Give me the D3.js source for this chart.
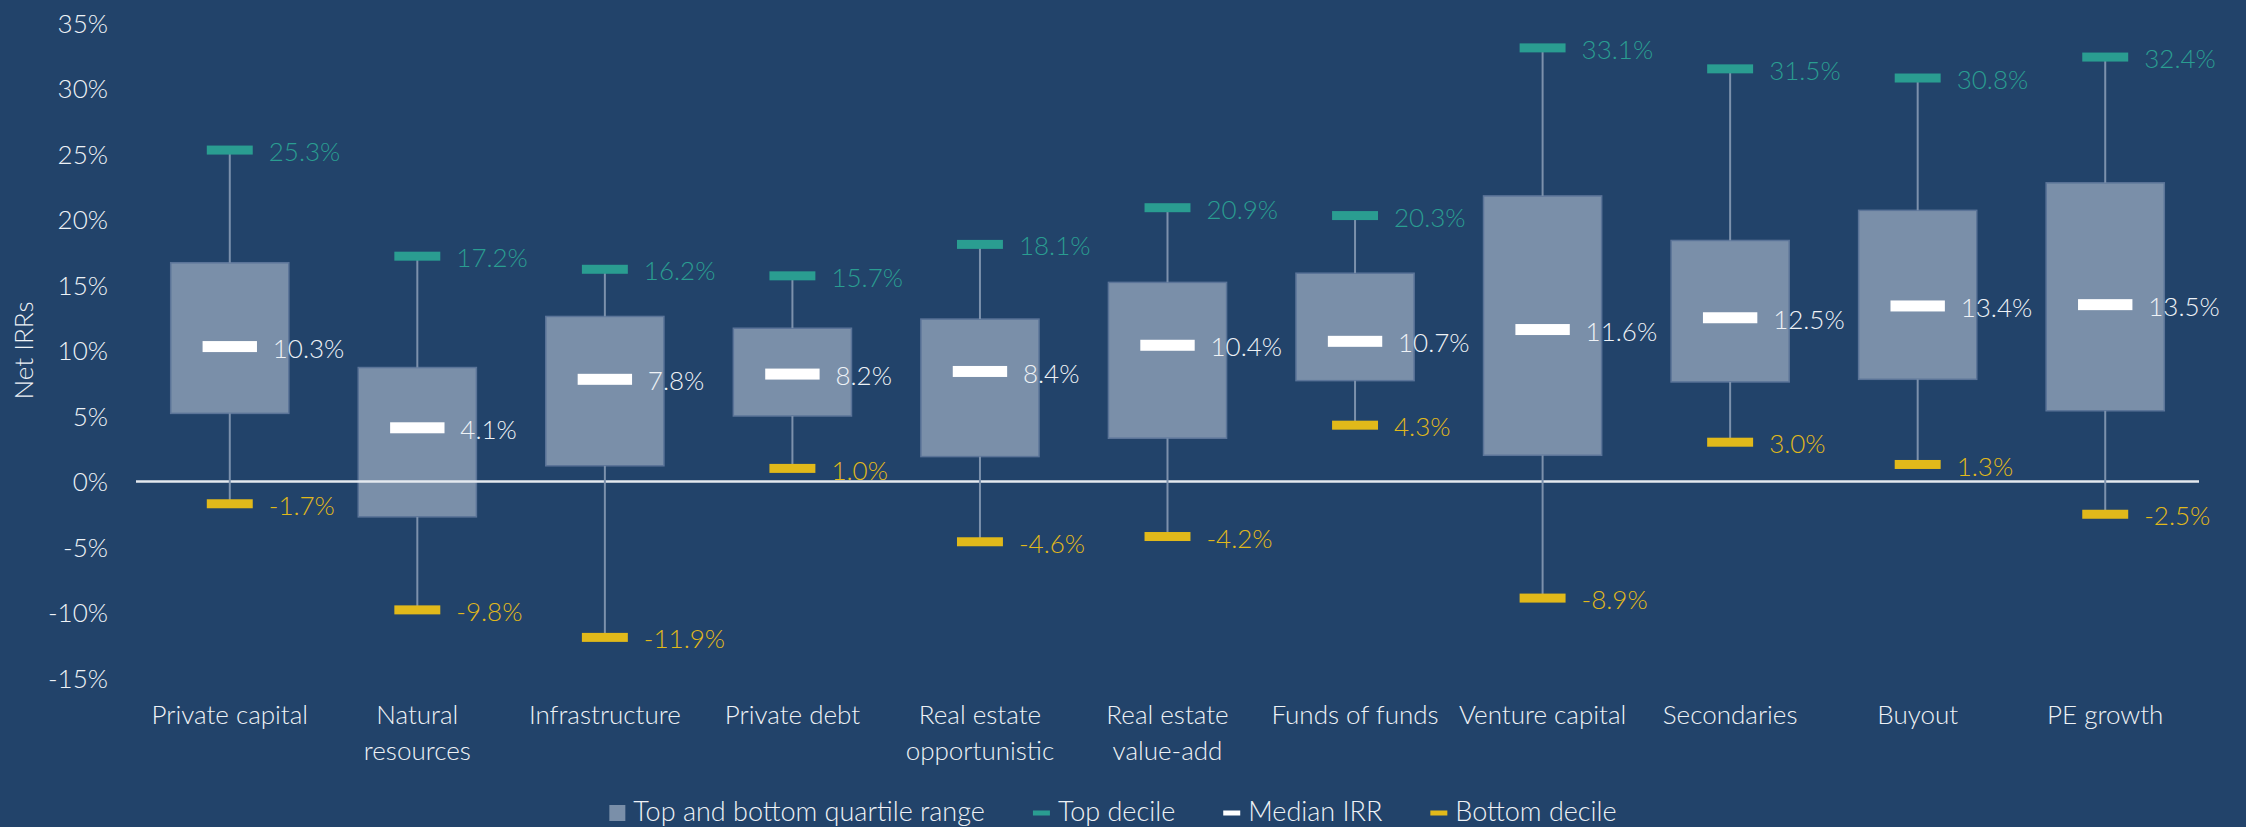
<!DOCTYPE html>
<html>
<head>
<meta charset="utf-8">
<script src="https://cdn.jsdelivr.net/npm/d3@7"></script>
<style>
  html, body { margin: 0; padding: 0; background: #22436A; }
  svg { display: block; }
  text { font-family: Lato, "Open Sans", sans-serif; font-weight: 300; }
</style>
</head>
<body>
<script>
// ---- Data ----
const categories = ["Private capital", "Natural resources", "Infrastructure", "Private debt",
  "Real estate opportunistic", "Real estate value-add", "Funds of funds", "Venture capital",
  "Secondaries", "Buyout", "PE growth"];
const categoryLines = [["Private capital"], ["Natural", "resources"], ["Infrastructure"], ["Private debt"],
  ["Real estate", "opportunistic"], ["Real estate", "value-add"], ["Funds of funds"], ["Venture capital"],
  ["Secondaries"], ["Buyout"], ["PE growth"]];
const topDecile    = [25.3, 17.2, 16.2, 15.7, 18.1, 20.9, 20.3, 33.1, 31.5, 30.8, 32.4];
const upperQuartile= [16.7,  8.7, 12.6, 11.7, 12.4, 15.2, 15.9, 21.8, 18.4, 20.7, 22.8];
const medianIRR    = [10.3,  4.1,  7.8,  8.2,  8.4, 10.4, 10.7, 11.6, 12.5, 13.4, 13.5];
const lowerQuartile= [ 5.2, -2.7,  1.2,  5.0,  1.9,  3.3,  7.7,  2.0,  7.6,  7.8,  5.4];
const bottomDecile = [-1.7, -9.8,-11.9,  1.0, -4.6, -4.2,  4.3, -8.9,  3.0,  1.3, -2.5];
const yTicks = [-15, -10, -5, 0, 5, 10, 15, 20, 25, 30, 35];
const legendLabels = ["Top and bottom quartile range", "Top decile", "Median IRR", "Bottom decile"];

// ---- Style ----
const W = 2246, H = 827;
const BG = "#22436A", BOX = "#7A8FA9", BOX_STROKE = "#5B7498", WHISK = "#7C91AC";
const TEAL = "#2A9D91", GOLD = "#E1B91A", WHITE = "#FFFFFF", TXT = "#EEF2F6";
const FS = 26;

const svg = d3.select("body").append("svg").attr("width", W).attr("height", H);
svg.append("rect").attr("width", W).attr("height", H).attr("fill", BG);

const x = d3.scaleBand().domain(categories).range([136, 2199]).paddingInner(0.37).paddingOuter(0.185);
const y = d3.scaleLinear().domain([-15, 35]).range([678, 23]);

const rows = categories.map((c, i) => ({
  c, lines: categoryLines[i], top: topDecile[i], uq: upperQuartile[i], med: medianIRR[i],
  lq: lowerQuartile[i], bot: bottomDecile[i]
}));
const cx = d => x(d.c) + x.bandwidth() / 2;
const capW = x.step() * 0.245, capH = 9, medW = x.step() * 0.29, medH = 11;

// Y axis (labels only)
const yAxis = d3.axisLeft(y).tickValues(yTicks).tickFormat(d => d + "%").tickSize(0).tickPadding(0);
const gy = svg.append("g").attr("transform", "translate(108,0)").call(yAxis);
gy.select(".domain").remove();
gy.selectAll("text").attr("fill", TXT).attr("font-size", FS).attr("font-family", null)
  .attr("dy", "0.35em");

// Y axis title
svg.append("text").attr("transform", `translate(33,${(y(-15) + y(35)) / 2}) rotate(-90)`)
  .attr("text-anchor", "middle").attr("fill", TXT).attr("font-size", FS).text("Net IRRs");

// X axis labels
const xAxis = d3.axisBottom(x).tickSize(0).tickFormat("");
const gx = svg.append("g").attr("transform", `translate(0,${y(-15)})`).call(xAxis);
gx.select(".domain").remove();
gx.attr("font-family", null);
gx.selectAll(".tick").each(function (c, i) {
  const t = d3.select(this).append("text").attr("fill", TXT).attr("font-size", FS)
    .attr("text-anchor", "middle");
  categoryLines[i].forEach((ln, k) => {
    t.append("tspan").attr("x", 0).attr("y", 46 + k * 36).text(ln);
  });
});
gy.attr("font-family", null);

// Boxes
const g = svg.append("g");
g.selectAll("rect.box").data(rows).join("rect").attr("class", "box")
  .attr("x", d => x(d.c)).attr("width", x.bandwidth())
  .attr("y", d => y(d.uq)).attr("height", d => y(d.lq) - y(d.uq))
  .attr("fill", BOX).attr("stroke", BOX_STROKE).attr("stroke-width", 1.5);

// Zero line
svg.append("line").attr("x1", 136).attr("x2", 2199).attr("y1", y(0)).attr("y2", y(0))
  .attr("stroke", "#E4E9EF").attr("stroke-width", 2.5);

// Whiskers
const gw = svg.append("g");
gw.selectAll("line.up").data(rows).join("line")
  .attr("x1", cx).attr("x2", cx).attr("y1", d => y(d.top)).attr("y2", d => y(d.uq))
  .attr("stroke", WHISK).attr("stroke-width", 2);
gw.selectAll("line.dn").data(rows).join("line")
  .attr("x1", cx).attr("x2", cx).attr("y1", d => y(d.lq)).attr("y2", d => y(d.bot))
  .attr("stroke", WHISK).attr("stroke-width", 2);

// Caps and medians
const marks = [
  { key: "top", color: TEAL, w: capW, h: capH, lab: TEAL, off: 39 },
  { key: "bot", color: GOLD, w: capW, h: capH, lab: GOLD, off: 39 },
  { key: "med", color: WHITE, w: medW, h: medH, lab: TXT, off: 43 }
];
marks.forEach(m => {
  const gm = svg.append("g");
  gm.selectAll("rect").data(rows).join("rect")
    .attr("x", d => cx(d) - m.w / 2).attr("width", m.w)
    .attr("y", d => y(d[m.key]) - m.h / 2).attr("height", m.h).attr("fill", m.color);
  gm.selectAll("text").data(rows).join("text")
    .attr("x", d => cx(d) + m.off).attr("y", d => y(d[m.key]) + 2)
    .attr("dy", "0.35em").attr("fill", m.lab).attr("font-size", FS)
    .text(d => d[m.key].toFixed(1) + "%");
});

// Legend
const legend = svg.append("g").attr("transform", "translate(0,812)");
const swatches = [
  { w: 16, h: 16, color: BOX },
  { w: 17, h: 5, color: TEAL },
  { w: 17, h: 5, color: WHITE },
  { w: 17, h: 5, color: GOLD }
];
let lx = 0;
legendLabels.forEach((lab, i) => {
  const it = legend.append("g");
  it.append("rect").attr("x", 0).attr("y", -swatches[i].h / 2 + 1).attr("width", swatches[i].w)
    .attr("height", swatches[i].h).attr("fill", swatches[i].color);
  const t = it.append("text").attr("x", swatches[i].w + 8).attr("y", 0).attr("dy", "0.35em")
    .attr("fill", TXT).attr("font-size", FS + 1).text(lab);
  it.attr("transform", `translate(${lx},0)`);
  lx += swatches[i].w + 8 + t.node().getComputedTextLength() + 48;
});
const totalW = lx - 48;
legend.attr("transform", `translate(${1113 - totalW / 2},812)`);
</script>
</body>
</html>
